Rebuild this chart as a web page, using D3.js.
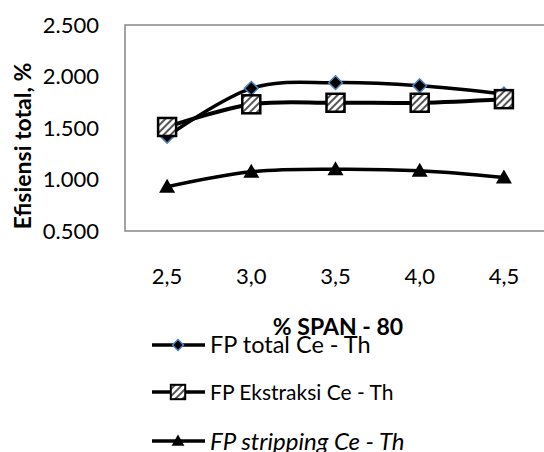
<!DOCTYPE html>
<html><head><meta charset="utf-8">
<script src="https://cdn.jsdelivr.net/npm/d3@7/dist/d3.min.js"></script>
<style>body{margin:0;background:#fff}svg{display:block}text{font-family:Lato,"Open Sans",sans-serif;fill:#000}</style>
</head><body>
<svg id="c" width="544" height="452"></svg>
<script>
const categories = ["2,5","3,0","3,5","4,0","4,5"];
const yTicks = [0.5,1.0,1.5,2.0,2.5];
const totalCeTh = [1.42,1.885,1.94,1.91,1.83];
const ekstraksiCeTh = [1.51,1.73,1.745,1.745,1.78];
const strippingCeTh = [0.93,1.075,1.10,1.085,1.02];
const seriesNames = ["FP total Ce - Th","FP Ekstraksi Ce - Th","FP stripping Ce - Th"];
const xTitle = "% SPAN - 80";
const yTitle = "Efisiensi total, %";

const svg = d3.select("#c");
const L=125, T=25, R=546, B=231;
const x = d3.scaleBand().domain(categories).range([L,R]);
const cx = c => x(c)+x.bandwidth()/2;
const y = d3.scaleLinear().domain([0.5,2.5]).range([B,T]);

const defs = svg.append("defs");
const pat = defs.append("pattern").attr("id","hatch").attr("patternUnits","userSpaceOnUse")
  .attr("width",5).attr("height",5).attr("patternTransform","rotate(45)");
pat.append("rect").attr("width",5).attr("height",5).attr("fill","#fff");
pat.append("rect").attr("width",2).attr("height",5).attr("fill","#555");

// frame
svg.append("path").attr("d",`M${R},${T}H${L}V${B}H${R}`).attr("fill","none").attr("stroke","#868686").attr("stroke-width",1.5);

// y axis labels
const fmt = v => d3.format(".3f")(v);
svg.append("g").selectAll("text").data(yTicks).join("text")
  .attr("x",99).attr("y",d=>y(d)).attr("dy","0.36em").attr("text-anchor","end")
  .style("font-size","22px").text(fmt);
// x labels
svg.append("g").selectAll("text").data(categories).join("text")
  .attr("x",d=>cx(d)).attr("y",276).attr("dy","0.36em").attr("text-anchor","middle")
  .style("font-size","22px").text(d=>d);

svg.append("text").attr("x",338).attr("y",335).attr("text-anchor","middle")
  .style("font-size","23px").style("font-weight","bold").text(xTitle);
svg.append("text").attr("transform","translate(31,146) rotate(-90)").attr("text-anchor","middle")
  .style("font-size","23px").style("font-weight","bold").text(yTitle);

const line = d3.line().x((d,i)=>cx(categories[i])).y(d=>y(d)).curve(d3.curveCatmullRom.alpha(0));
const data = [totalCeTh, ekstraksiCeTh, strippingCeTh];
const widths=[3.5,4,3.5];
data.forEach((s,k)=>{
  svg.append("path").attr("d",line(s)).attr("fill","none").attr("stroke","#000").attr("stroke-width",widths[k]);
});

function marker(g,k,px,py,sc){
  sc = sc||1;
  if(k===0){
    g.append("path").attr("d",d3.symbol(d3.symbolDiamond2,120*sc*sc)()).attr("transform",`translate(${px},${py})`)
     .attr("fill","#000").attr("stroke","#4f81bd").attr("stroke-width",1.5);
  } else if(k===1){
    const h=9*sc;
    g.append("rect").attr("x",px-h).attr("y",py-h).attr("width",2*h).attr("height",2*h)
     .attr("fill","url(#hatch)").attr("stroke","#000").attr("stroke-width",2.5*sc);
  } else {
    g.append("path").attr("d",`M0,${-8*sc}L${8*sc},${6*sc}H${-8*sc}Z`).attr("transform",`translate(${px},${py})`).attr("fill","#000");
  }
}
const mg = svg.append("g");
data.forEach((s,k)=>s.forEach((v,i)=>marker(mg,k,cx(categories[i]),y(v))));

// legend
const legY=[345,392,441];
const legSize=[23.5,21,24];
seriesNames.forEach((n,k)=>{
  svg.append("line").attr("x1",152).attr("x2",205).attr("y1",legY[k]).attr("y2",legY[k]).attr("stroke","#000").attr("stroke-width",3.5);
  marker(svg,k,178,legY[k],0.8);
  svg.append("text").attr("x",210).attr("y",legY[k]).attr("dy","0.36em")
    .style("font-size",legSize[k]+"px").style("font-style",k===2?"italic":"normal").text(n);
});
</script>
</body></html>
